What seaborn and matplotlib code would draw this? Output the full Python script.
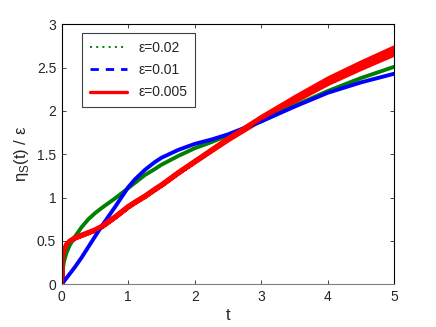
import matplotlib
matplotlib.use("Agg")
import matplotlib.pyplot as plt
import numpy as np
import seaborn as sns

# time grid shared by all curves
t = [0, 0.01, 0.03, 0.07, 0.12, 0.2, 0.3, 0.4, 0.5, 0.6, 0.8, 1.0, 1.1, 1.25,
     1.4, 1.5, 1.75, 2.0, 2.25, 2.5, 3.0, 3.5, 4.0, 4.5, 5.0]

eta_002 = [0, 0.15, 0.25, 0.36, 0.45, 0.55, 0.66, 0.75, 0.82, 0.88, 0.99, 1.11,
           1.17, 1.26, 1.33, 1.38, 1.48, 1.57, 1.64, 1.72, 1.88, 2.06, 2.23,
           2.38, 2.51]
eta_001 = [0, 0.01, 0.03, 0.07, 0.12, 0.20, 0.31, 0.43, 0.55, 0.67, 0.89, 1.12,
           1.21, 1.32, 1.41, 1.46, 1.55, 1.62, 1.67, 1.73, 1.88, 2.05, 2.21,
           2.33, 2.43]
eta_0005 = [0, 0.28, 0.38, 0.46, 0.50, 0.54, 0.57, 0.60, 0.63, 0.67, 0.78, 0.90,
            0.95, 1.02, 1.10, 1.15, 1.29, 1.42, 1.55, 1.68, 1.92, 2.14, 2.35,
            2.53, 2.70]
# half width of the fast oscillation of the eps=0.005 curve
osc_0005 = [0, 0, 0, 0, 0, 0, 0, 0, 0, 0, 0, 0, 0, 0, 0, 0, 0, 0.002, 0.005,
            0.008, 0.015, 0.022, 0.028, 0.033, 0.038]

labels = ["ε=0.02", "ε=0.01", "ε=0.005"]
xticks = [0, 1, 2, 3, 4, 5]
yticks = [0, 0.5, 1, 1.5, 2, 2.5, 3]
ytick_labels = ["0", "0.5", "1", "1.5", "2", "2.5", "3"]

sns.set_style("white")
plt.rcParams["font.family"] = ["Liberation Sans", "DejaVu Sans"]
plt.rcParams["mathtext.fontset"] = "custom"
plt.rcParams["mathtext.rm"] = "Liberation Sans"

fig = plt.figure(figsize=(4.36, 3.27), dpi=100)
ax = fig.add_axes([0.1415, 0.1306, 0.7629, 0.7951])

green = "#008000"
blue = "#0000ff"
red = "#ff0000"

sns.lineplot(x=t, y=eta_002, ax=ax, color=green, lw=2.8, label=labels[0])
sns.lineplot(x=t, y=eta_001, ax=ax, color=blue, lw=2.8, label=labels[1])
sns.lineplot(x=t, y=eta_0005, ax=ax, color=red, lw=3.4, label=labels[2])

lo = np.array(eta_0005) - np.array(osc_0005)
hi = np.array(eta_0005) + np.array(osc_0005)
ax.fill_between(t, lo, hi, color=red, lw=3.4, edgecolor=red)

ax.set_xlim(0, 5)
ax.set_ylim(0, 3)
ax.set_xticks(xticks)
ax.set_xticklabels([str(v) for v in xticks])
ax.set_yticks(yticks)
ax.set_yticklabels(ytick_labels)
ax.tick_params(direction="in", length=3, width=0.6, labelsize=10,
               top=True, right=True, bottom=True, left=True, pad=4)

for s in ax.spines.values():
    s.set_visible(True)
    s.set_color("black")
    s.set_linewidth(0.8)
ax.spines["bottom"].set_color("#808080")

ax.set_xlabel("t", fontsize=12, labelpad=3)
ax.set_ylabel("η$_\\mathregular{S}$(t) / ε", fontsize=12, labelpad=4)

leg = ax.legend(loc="upper left", bbox_to_anchor=(0.061, 0.966),
                borderaxespad=0, fontsize=10, handlelength=2.7,
                fancybox=False, edgecolor="#404040", framealpha=1,
                borderpad=0.55, labelspacing=0.6)
leg.get_frame().set_linewidth(0.8)
hl = leg.get_lines()
hl[0].set_linestyle((0, (1, 2.2)))
hl[0].set_linewidth(1.4)
hl[1].set_linestyle((0, (3, 2.5)))
hl[1].set_linewidth(2.0)
hl[2].set_linewidth(2.4)

fig.savefig("out.png", dpi=100)
